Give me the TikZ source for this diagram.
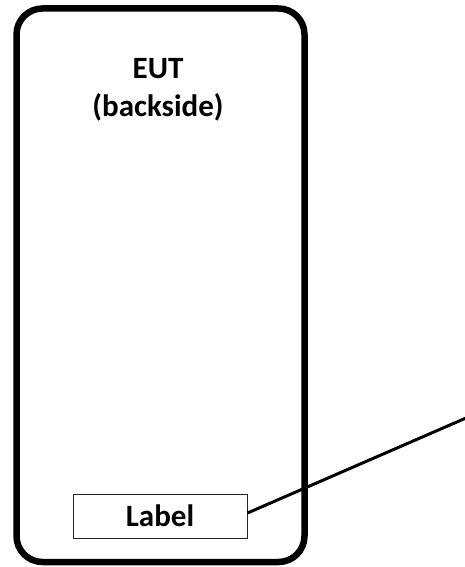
\documentclass[tikz,border=0pt]{standalone}
\usepackage{fontspec}
\setmainfont{Carlito}
\begin{document}
\begin{tikzpicture}[x=1pt,y=-1pt,
  device/.style={draw=black,line width=6.5pt,rounded corners=26pt},
  tag/.style={draw=black!85,line width=1pt,minimum width=174pt,minimum height=44pt,inner sep=0pt,font=\fontsize{31}{36}\selectfont\bfseries},
  title/.style={align=center,font=\fontsize{31}{38}\selectfont\bfseries},
  leader/.style={draw=black,line width=3pt}]
\useasboundingbox (0,0) rectangle (464,567);
\draw[device] (16.5,8.5) rectangle (304.5,562);
\node[title] (eut) at (158,90) {EUT\\(backside)};
\node[tag] (lbl) at (160,516) {Label};
\coordinate (far) at (466,418);
\draw[leader] (lbl.east) ++(0,-3) -- (far);
\end{tikzpicture}
\end{document}
